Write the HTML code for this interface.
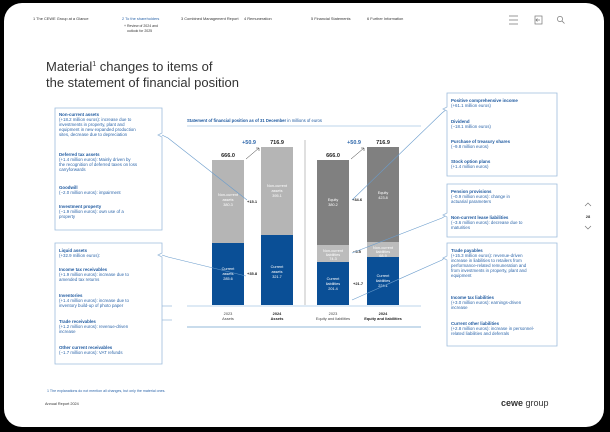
<!DOCTYPE html>
<html><head><meta charset="utf-8"><style>
html,body{margin:0;padding:0;background:#000;}
svg{display:block;font-family:"Liberation Sans",sans-serif;}
.bx{fill:#fff;stroke:#9dbcdc;stroke-width:0.8}
.h{fill:#1f5aa0;font-weight:bold;font-size:4.4px}
.t{fill:#2d66aa;font-size:4.4px}
.w{fill:#fff;font-size:3.8px;text-anchor:middle}
.k{font-size:5.5px;font-weight:bold;text-anchor:middle;fill:#222}
.d{font-size:4px;font-weight:bold;fill:#222}
.lk{stroke:#6a9ccc;stroke-width:0.6;fill:none}
.nav{font-size:3.9px;fill:#333}
</style></head><body>
<svg width="610" height="432" viewBox="0 0 610 432" xmlns="http://www.w3.org/2000/svg">
<rect x="0" y="0" width="610" height="432" fill="#000"/>
<rect x="4" y="3" width="600" height="424" rx="18" fill="#fff"/>
<!-- nav -->
<text class="nav" x="33" y="20">1 The CEWE Group at a Glance</text>
<text class="nav" x="122" y="20" fill="#2d66aa" style="fill:#2d66aa">2 To the shareholders</text>
<text class="nav" x="181" y="20">3 Combined Management Report</text>
<text class="nav" x="244" y="20">4 Remuneration</text>
<text class="nav" x="311" y="20">5 Financial Statements</text>
<text class="nav" x="367" y="20">6 Further Information</text>
<text class="nav" x="124" y="27" style="font-size:3.5px">+ Review of 2024 and</text>
<text class="nav" x="127" y="32" style="font-size:3.5px">outlook for 2025</text>
<g stroke="#777" stroke-width="0.7" fill="none">
<path d="M509 16h9M509 20h9M509 24h9"/>
<rect x="535" y="16" width="7" height="8"/><path d="M540 20h-4m1.5-1.5l-1.5 1.5 1.5 1.5"/>
<circle cx="560" cy="19" r="2.6"/><path d="M562 21l2.5 2.5"/>
<path d="M585 206l3-3 3 3M585 226l3 3 3-3"/>
</g>
<text x="588" y="218" style="font-size:4px;font-weight:bold;text-anchor:middle" fill="#333">28</text>
<!-- title -->
<text x="46" y="71" style="font-size:13px" fill="#333">Material<tspan style="font-size:7px" dy="-5">1</tspan><tspan dy="5"> changes to items of</tspan></text>
<text x="46" y="87" style="font-size:13px" fill="#333">the statement of financial position</text>
<!-- chart -->
<text x="187" y="122" style="font-size:4.2px" fill="#1f5aa0"><tspan font-weight="bold">Statement of financial position as of 31 December</tspan> in millions of euros</text>
<line x1="187" y1="126" x2="421" y2="126" stroke="#a9c8e4" stroke-width="0.8"/>
<line x1="305" y1="140" x2="305" y2="305" stroke="#999" stroke-width="0.6"/>
<!-- assets -->
<rect x="212" y="160" width="32" height="83" fill="#b5b5b5"/>
<rect x="212" y="243" width="32" height="62" fill="#0a4f96"/>
<rect x="261" y="147" width="32" height="88" fill="#b5b5b5"/>
<rect x="261" y="235" width="32" height="70" fill="#0a4f96"/>
<!-- equity & liabilities -->
<rect x="317" y="160" width="32" height="85" fill="#808080"/>
<rect x="317" y="245" width="32" height="17" fill="#bcbcbc"/>
<rect x="317" y="262" width="32" height="43" fill="#0a4f96"/>
<rect x="367" y="147" width="32" height="95" fill="#808080"/>
<rect x="367" y="242" width="32" height="15" fill="#bcbcbc"/>
<rect x="367" y="257" width="32" height="48" fill="#0a4f96"/>
<line x1="187" y1="306" x2="421" y2="306" stroke="#a9c8e4" stroke-width="0.8"/>
<line x1="187" y1="327" x2="421" y2="327" stroke="#6fa0cc" stroke-width="0.8"/>
<text class="k" x="228" y="157">666.0</text>
<text class="k" x="277" y="144">716.9</text>
<text class="k" x="333" y="157">666.0</text>
<text class="k" x="383" y="144">716.9</text>
<text x="256" y="144" style="font-size:5.5px;font-weight:bold;text-anchor:end" fill="#2d66aa">+50.9</text>
<text x="361" y="144" style="font-size:5.5px;font-weight:bold;text-anchor:end" fill="#2d66aa">+50.9</text>
<path d="M246 159l13-11m-3 0h3v3M351 159l13-11m-3 0h3v3" stroke="#333" stroke-width="0.5" fill="none"/>
<text class="w" x="228" y="196">Non-current</text><text class="w" x="228" y="201">assets</text><text class="w" x="228" y="206">380.3</text>
<text class="w" x="228" y="270">Current</text><text class="w" x="228" y="275">assets</text><text class="w" x="228" y="280">285.6</text>
<text class="w" x="277" y="187">Non-current</text><text class="w" x="277" y="192">assets</text><text class="w" x="277" y="197">395.1</text>
<text class="w" x="277" y="268">Current</text><text class="w" x="277" y="273">assets</text><text class="w" x="277" y="278">321.7</text>
<text class="w" x="333" y="201">Equity</text><text class="w" x="333" y="206">380.2</text>
<text class="w" x="333" y="252">Non-current</text><text class="w" x="333" y="256">liabilities</text><text class="w" x="333" y="260">74.3</text>
<text class="w" x="333" y="280">Current</text><text class="w" x="333" y="285">liabilities</text><text class="w" x="333" y="290">201.4</text>
<text class="w" x="383" y="194">Equity</text><text class="w" x="383" y="199">423.8</text>
<text class="w" x="383" y="249">Non-current</text><text class="w" x="383" y="253">liabilities</text><text class="w" x="383" y="257">68.9</text>
<text class="w" x="383" y="277">Current</text><text class="w" x="383" y="282">liabilities</text><text class="w" x="383" y="287">224.1</text>
<text class="d" x="247" y="203">+15.1</text>
<text class="d" x="247" y="275">+35.8</text>
<text class="d" x="352" y="201">+34.6</text>
<text class="d" x="353" y="253">−5.5</text>
<text class="d" x="353" y="285">+21.7</text>
<g style="font-size:3.9px;text-anchor:middle" fill="#444">
<text x="228" y="315">2023</text><text x="228" y="320">Assets</text>
<text x="277" y="315" font-weight="bold" fill="#222">2024</text><text x="277" y="320" font-weight="bold" fill="#222">Assets</text>
<text x="333" y="315">2023</text><text x="333" y="320">Equity and liabilities</text>
<text x="383" y="315" font-weight="bold" fill="#222">2024</text><text x="383" y="320" font-weight="bold" fill="#222">Equity and liabilities</text>
</g>
<!-- connector lines -->
<path class="lk" d="M162 135l6 3 79 62M162 255l6 2 78 19M162 306h10M162 320h10"/>
<path class="lk" d="M447 109l-5 4-90 87M447 215l-5 3-90 35M447 256l-5 4-90 40"/>
<!-- left boxes -->
<path class="bx" d="M55 108h107v25l-4 2 4 2v93h-107z"/>
<text class="h" x="59" y="116">Non-current assets</text>
<text class="t" x="59" y="121">(+18.2 million euros): increase due to</text>
<text class="t" x="59" y="126">investments in property, plant and</text>
<text class="t" x="59" y="131">equipment in new expanded production</text>
<text class="t" x="59" y="136">sites, decrease due to depreciation</text>
<text class="h" x="59" y="156">Deferred tax assets</text>
<text class="t" x="59" y="161">(+1.4 million euros): Mainly driven by</text>
<text class="t" x="59" y="166">the recognition of deferred taxes on loss</text>
<text class="t" x="59" y="171">carryforwards</text>
<text class="h" x="59" y="189">Goodwill</text>
<text class="t" x="59" y="194">(−2.0 million euros): impairment</text>
<text class="h" x="59" y="208">Investment property</text>
<text class="t" x="59" y="213">(−1.9 million euros): own use of a</text>
<text class="t" x="59" y="218">property</text>
<path class="bx" d="M55 243h107v10l-4 2 4 2v107h-107z"/>
<text class="h" x="59" y="252">Liquid assets</text>
<text class="t" x="59" y="257">(+32.9 million euros):</text>
<text class="h" x="59" y="271">Income tax receivables</text>
<text class="t" x="59" y="276">(+1.9 million euros): increase due to</text>
<text class="t" x="59" y="281">amended tax returns</text>
<text class="h" x="59" y="297">Inventories</text>
<text class="t" x="59" y="302">(+1.4 million euros): increase due to</text>
<text class="t" x="59" y="307">inventory build-up of photo paper</text>
<text class="h" x="59" y="323">Trade receivables</text>
<text class="t" x="59" y="328">(+1.2 million euros): revenue-driven</text>
<text class="t" x="59" y="333">increase</text>
<text class="h" x="59" y="349">Other current receivables</text>
<text class="t" x="59" y="354">(−1.7 million euros): VAT refunds</text>
<!-- right boxes -->
<path class="bx" d="M447 93h110v83h-110v-65l-4-2 4-2z"/>
<text class="h" x="451" y="102">Positive comprehensive income</text>
<text class="t" x="451" y="107">(+61.1 million euros)</text>
<text class="h" x="451" y="123">Dividend</text>
<text class="t" x="451" y="128">(−18.1 million euros)</text>
<text class="h" x="451" y="143">Purchase of treasury shares</text>
<text class="t" x="451" y="148">(−9.8 million euros)</text>
<text class="h" x="451" y="163">Stock option plans</text>
<text class="t" x="451" y="168">(+1.4 million euros)</text>
<path class="bx" d="M447 184h110v53h-110v-20l-4-2 4-2z"/>
<text class="h" x="451" y="193">Pension provisions</text>
<text class="t" x="451" y="198">(−0.9 million euros): change in</text>
<text class="t" x="451" y="203">actuarial parameters</text>
<text class="h" x="451" y="219">Non-current lease liabilities</text>
<text class="t" x="451" y="224">(−3.6 million euros): decrease due to</text>
<text class="t" x="451" y="229">maturities</text>
<path class="bx" d="M447 243h110v103h-110v-86l-4-2 4-2z"/>
<text class="h" x="451" y="252">Trade payables</text>
<text class="t" x="451" y="257">(+15.3 million euros): revenue-driven</text>
<text class="t" x="451" y="262">increase in liabilities to retailers from</text>
<text class="t" x="451" y="267">performance-related remuneration and</text>
<text class="t" x="451" y="272">from investments in property, plant and</text>
<text class="t" x="451" y="277">equipment</text>
<text class="h" x="451" y="299">Income tax liabilities</text>
<text class="t" x="451" y="304">(+3.0 million euros): earnings-driven</text>
<text class="t" x="451" y="309">increase</text>
<text class="h" x="451" y="325">Current other liabilities</text>
<text class="t" x="451" y="330">(+2.8 million euros): increase in personnel-</text>
<text class="t" x="451" y="335">related liabilities and deferrals</text>
<!-- footer -->
<text x="47" y="392" style="font-size:3.6px" fill="#2d66aa">1   The explanations do not mention all changes, but only the material ones.</text>
<text x="45" y="405" style="font-size:3.8px" fill="#333">Annual Report 2024</text>
<text x="501" y="406" style="font-size:9px" fill="#333"><tspan font-weight="bold">cewe</tspan> group</text>
</svg>
</body></html>
